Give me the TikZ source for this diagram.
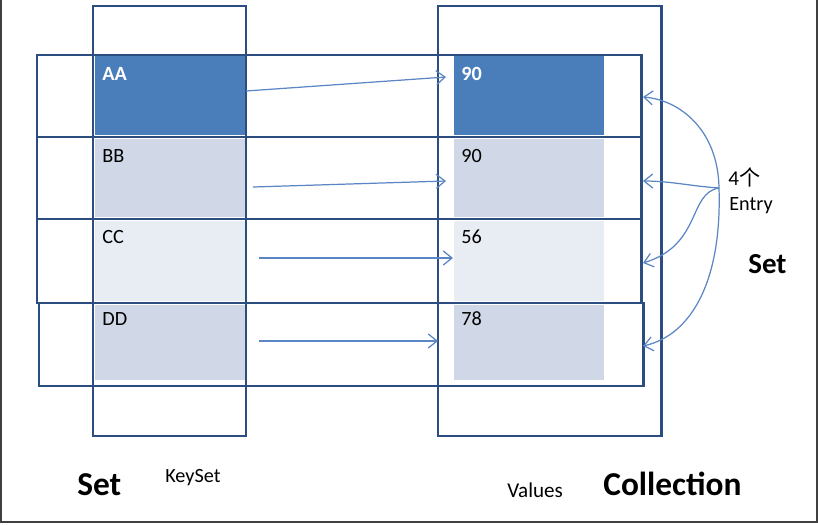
\documentclass[tikz,border=0pt]{standalone}
\usepackage{fontspec}
\setmainfont{Carlito}
\newfontfamily\cjk{Noto Sans CJK SC}
\usetikzlibrary{arrows.meta,positioning,calc}

\definecolor{frameblue}{HTML}{2C4D7F}
\definecolor{cellblue}{HTML}{4A7EBB}
\definecolor{celllight}{HTML}{D0D8E8}
\definecolor{cellpale}{HTML}{E8ECF3}
\definecolor{arrowblue}{HTML}{5B86C5}

\tikzset{
  boxline/.style={draw=frameblue,line width=1.7pt},
  celltext/.style={anchor=base west,inner sep=0pt,font=\fontsize{11.5}{14}\selectfont},
  link/.style={draw=arrowblue,line width=0.7pt,->},
}

\begin{document}
\begin{tikzpicture}[x=0.02cm,y=-0.02cm,>={Straight Barb[length=5pt,width=8pt]}]
  \useasboundingbox (0,0) rectangle (818,524);

  % ------- 画面の枠 -------
  \draw[black!75,line width=1.5pt] (1,0) -- (1,522) -- (817,522) -- (817,0);

  %================= セルの塗り =================
  \foreach \ya/\yb/\c in {56/135/cellblue,139/217/celllight,221/301/cellpale,305/380/celllight} {
    \fill[\c] (95,\ya) rectangle (245,\yb);     % KeySet 側
    \fill[\c] (454,\ya) rectangle (604,\yb);    % Values 側
  }

  %================= 行（Entry）の枠 =================
  \draw[boxline] (37,55) rectangle (641,303);
  \draw[boxline] (37,137) -- (641,137);
  \draw[boxline] (37,219) -- (641,219);
  \draw[boxline] (39,303) rectangle (643,386);

  %================= 列の枠 =================
  \draw[boxline] (93,6) rectangle (246,436);    % KeySet
  \draw[boxline] (438,6) rectangle (661,436);   % Values

  % ---- キーと値 ----
  \node[celltext,text=white,font=\fontsize{11.5}{14}\selectfont\bfseries] (kA) at (102,80) {AA};
  \node[celltext] (kB) at (102,162) {BB};
  \node[celltext] (kC) at (102,243) {CC};
  \node[celltext] (kD) at (102,325) {DD};
  \node[celltext,text=white,font=\fontsize{11.5}{14}\selectfont\bfseries] (vA) at (461,80) {90};
  \node[celltext] (vB) at (461,162) {90};
  \node[celltext] (vC) at (461,243) {56};
  \node[celltext] (vD) at (461,325) {78};

  % ---- キー → 値 の矢印 ----
  \coordinate (kA-out) at (246,91);   \coordinate (vA-in) at (446,77);
  \coordinate (kB-out) at (253,187);  \coordinate (vB-in) at (446,181);
  \coordinate (kC-out) at (259,258);  \coordinate (vC-in) at (453,258);
  \coordinate (kD-out) at (259,341);  \coordinate (vD-in) at (438,341);
  \foreach \r in {A,B,C,D} {
    \draw[link] (k\r-out) -- (v\r-in);
  }

  % ---- 4個のEntry ----
  \node[anchor=base west,inner sep=0pt,font=\fontsize{12}{14}\selectfont] (cnt) at (728,185) {4{\cjk 个}};
  \node[anchor=base west,inner sep=0pt,font=\fontsize{11.5}{14}\selectfont] (entry) at (729,210) {Entry};
  \coordinate (src) at (719,188);
  \coordinate (eA) at (643,97);
  \coordinate (eB) at (643,181);
  \coordinate (eC) at (643,263);
  \coordinate (eD) at (643,346);
  \draw[link] (src) .. controls (718,130) and (680,100) .. (eA);
  \draw[link] (src) .. controls (690,186) and (670,181) .. (eB);
  \draw[link] (src) .. controls (688,193) and (702,245) .. (eC);
  \draw[link] (src) .. controls (722,280) and (692,335) .. (eD);

  %================= 見出し =================
  \node[anchor=base west,inner sep=0pt,font=\fontsize{19}{22}\selectfont\bfseries] (setL) at (77,495) {Set};
  \node[anchor=base west,inner sep=0pt,font=\fontsize{11.5}{14}\selectfont] (keyset) at (165,482) {KeySet};
  \node[anchor=base west,inner sep=0pt,font=\fontsize{12}{14}\selectfont] (values) at (507,497) {Values};
  \node[anchor=base west,inner sep=0pt,font=\fontsize{19}{22}\selectfont\bfseries] (coll) at (603,495) {Collection};
  \node[anchor=base west,inner sep=0pt,font=\fontsize{16.5}{20}\selectfont\bfseries] (setR) at (748,273) {Set};

\end{tikzpicture}
\end{document}
